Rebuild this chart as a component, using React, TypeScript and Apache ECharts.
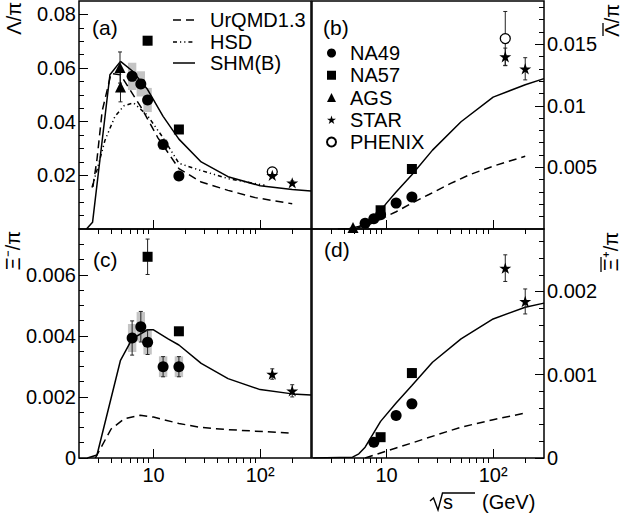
import React, { useEffect, useRef } from "react";
import * as echarts from "echarts";

const FONT = "'Liberation Sans', Arial, Helvetica, sans-serif";
const FS = 20;

// ---- axis ticks / labels ----
const xMajor = [10, 100];
const xMinor = [3, 4, 5, 6, 7, 8, 9, 20, 30, 40, 50, 60, 70, 80, 90, 200];

const aMax = 0.085;
const aMajor = [0.02, 0.04, 0.06, 0.08];
const aMinor = [0.005, 0.01, 0.015, 0.025, 0.03, 0.035, 0.045, 0.05, 0.055, 0.065, 0.07, 0.075];
const bMax = 0.0185;
const bMajor = [0.005, 0.01, 0.015];
const bMinor = [0.001, 0.002, 0.003, 0.004, 0.006, 0.007, 0.008, 0.009, 0.011, 0.012, 0.013, 0.014, 0.016, 0.017, 0.018];
const cMax = 0.0075;
const cMajor = [0, 0.002, 0.004, 0.006];
const cMinor = [0.0005, 0.001, 0.0015, 0.0025, 0.003, 0.0035, 0.0045, 0.005, 0.0055, 0.0065, 0.007];
const dMax = 0.00275;
const dMajor = [0, 0.001, 0.002];
const dMinor = [0.0002, 0.0004, 0.0006, 0.0008, 0.0012, 0.0014, 0.0016, 0.0018, 0.0022, 0.0024, 0.0026];

// ---- model curves [sqrt(s), ratio] ----
const urqmdA = [[2.7, 0.0157], [2.95, 0.026], [3.3, 0.044], [4.0, 0.058], [4.9, 0.0575], [6.0, 0.052], [7.6, 0.0455], [8.8, 0.041], [11, 0.034], [17.3, 0.0225], [28, 0.0175], [50, 0.0144], [90, 0.0117], [200, 0.0094]];
const hsdA = [[2.65, 0.0155], [2.95, 0.022], [3.5, 0.033], [4.35, 0.042], [5.3, 0.046], [6.5, 0.047], [8.7, 0.0425], [12.3, 0.034], [17.3, 0.0245], [24.4, 0.0225], [50, 0.0188], [100, 0.0166], [110, 0.0163]];
const shmA = [[2.35, 0], [2.68, 0.0025], [3.9, 0.0575], [4.9, 0.0625], [6.3, 0.059], [8.8, 0.052], [12.3, 0.042], [17.3, 0.0335], [28, 0.025], [50, 0.0195], [100, 0.0161], [200, 0.0147], [300, 0.0142]];

const urqmdB = [[5, 0], [7, 0.0004], [8.8, 0.0008], [12.3, 0.0014], [17.3, 0.0021], [25, 0.0028], [40, 0.0037], [60, 0.0044], [100, 0.0051], [200, 0.0059]];
const shmB = [[3.5, 0], [4.5, 0.00005], [5.5, 0.0002], [6.3, 0.0005], [7.6, 0.0009], [8.8, 0.0015], [10, 0.0021], [12.3, 0.003], [17.3, 0.0044], [27, 0.0064], [50, 0.0087], [100, 0.0107], [200, 0.0117], [300, 0.0122]];

const urqmdC = [[2.85, 0], [3.0, 0.00015], [4.0, 0.00095], [5.3, 0.00128], [7.5, 0.0014], [10, 0.00134], [17.3, 0.00113], [28, 0.001], [50, 0.00093], [90, 0.00088], [185, 0.00082]];
const shmC = [[2.4, 0], [2.95, 0.0001], [4.9, 0.0032], [6.3, 0.0039], [8.8, 0.0042], [10, 0.0042], [13.7, 0.0039], [17.3, 0.0037], [28, 0.0031], [50, 0.0026], [100, 0.00224], [200, 0.0021], [300, 0.00206]];

const urqmdD = [[6.3, 0], [8.8, 0.00006], [12.3, 0.00012], [17.3, 0.00018], [30, 0.00028], [50, 0.00037], [100, 0.00046], [200, 0.00054]];
const shmD = [[2.05, 0], [4.8, 0.00001], [5.5, 0.00005], [6.3, 0.00013], [8.8, 0.00044], [12.3, 0.00066], [17.3, 0.00087], [27, 0.00115], [50, 0.00143], [100, 0.00167], [200, 0.00181], [300, 0.00186]];

// ---- measurements [sqrt(s), ratio, stat. error] ----
const na49A = [[6.3, 0.0569, 0], [7.6, 0.0541, 0], [8.8, 0.0481, 0], [12.3, 0.0315, 0], [17.3, 0.0198, 0]];
const na49ASys = [0.0051, 0.0047, 0.0045, 0.002, 0.001];
const na57A = [[8.8, 0.0702, 0.0015], [17.3, 0.0371, 0.0012]];
const agsA = [[4.85, 0.0602, 0.0058], [4.9, 0.0529, 0.0055]];
const starA = [[130, 0.02, 0.0008], [200, 0.0172, 0.0007]];
const phenixA = [[130, 0.0213, 0.001]];

const na49B = [[6.3, 0.00046, 0], [7.6, 0.00083, 0], [8.8, 0.00115, 0], [12.3, 0.0021, 0], [17.3, 0.0026, 0]];
const na57B = [[8.8, 0.00152, 0], [17.3, 0.00487, 0]];
const agsB = [[4.85, 0.00013, 0]];
const starB = [[130, 0.01398, 0.0007], [200, 0.013, 0.0009]];
const phenixB = [[130, 0.01545, 0.0022]];

const na49C = [[6.3, 0.00393, 0.00056], [7.6, 0.0043, 0.0005], [8.8, 0.00379, 0.0004], [12.3, 0.00299, 0.00033], [17.3, 0.00299, 0.00033]];
const na49CSys = [0.00046, 0.00048, 0.0004, 0.00034, 0.00034];
const na57C = [[8.8, 0.00659, 0.00058], [17.3, 0.00415, 0.0001]];
const starC = [[130, 0.00275, 0.00017], [200, 0.0022, 0.0002]];

const na49D = [[7.6, 0.00019, 0.00003], [12.3, 0.00051, 0.00003], [17.3, 0.00065, 0.00003]];
const na57D = [[8.8, 0.00025, 0.00004], [17.3, 0.00102, 0.00005]];
const starD = [[130, 0.00228, 0.00016], [200, 0.00188, 0.00015]];

const lineNames = ["UrQMD1.3", "HSD", "SHM(B)"];
const markNames = ["NA49", "NA57", "AGS", "STAR", "PHENIX"];

const STAR_PATH =
  "path://M50,0 L61.2,34.5 L97.6,34.5 L68.2,55.9 L79.4,90.5 L50,69.1 L20.6,90.5 L31.8,55.9 L2.4,34.5 L38.8,34.5 Z";

const MARK: Record<string, any> = {
  NA49: { symbol: "circle", size: 11, style: { color: "#000" } },
  NA57: { symbol: "rect", size: 10, style: { color: "#000" } },
  AGS: { symbol: "triangle", size: 11, style: { color: "#000" } },
  STAR: { symbol: STAR_PATH, size: 12, style: { color: "#000" } },
  PHENIX: { symbol: "circle", size: 10, style: { color: "#fff", borderColor: "#000", borderWidth: 1.3 } },
};

const DASH: Record<string, any> = {
  "UrQMD1.3": [8, 5],
  HSD: [4, 3, 1.2, 3, 1.2, 3],
  "SHM(B)": "solid",
};

const GRIDS = [
  { left: 79, top: 1, width: 232, height: 228 },
  { left: 312, top: 1, width: 232, height: 228 },
  { left: 79, top: 229, width: 232, height: 229 },
  { left: 312, top: 229, width: 232, height: 229 },
];

const PANELS = [
  { max: aMax, major: aMajor, minor: aMinor, side: "left", xLabels: false },
  { max: bMax, major: bMajor, minor: bMinor, side: "right", xLabels: false },
  { max: cMax, major: cMajor, minor: cMinor, side: "left", xLabels: true },
  { max: dMax, major: dMajor, minor: dMinor, side: "right", xLabels: true },
];

const ax = (p: number) => ({ xAxisIndex: p * 2, yAxisIndex: p * 2 });

function lineS(name: string, p: number, data: number[][]) {
  return {
    type: "line",
    name,
    ...ax(p),
    data,
    symbol: "none",
    silent: true,
    color: "#000",
    itemStyle: { color: "#000" },
    lineStyle: { color: "#000", width: 1.5, type: DASH[name] },
    z: 3,
  };
}

function scat(name: string, p: number, pts: number[][]) {
  const m = MARK[name];
  return {
    type: "scatter",
    name,
    ...ax(p),
    data: pts.map((d) => [d[0], d[1]]),
    symbol: m.symbol,
    symbolSize: m.size,
    symbolKeepAspect: true,
    itemStyle: { ...m.style, opacity: 1 },
    z: 5,
  };
}

function errS(p: number, pts: number[][]) {
  const data = pts.filter((d) => d[2] > 0).map((d) => [d[0], d[1] - d[2], d[1] + d[2]]);
  return {
    type: "custom",
    ...ax(p),
    data,
    silent: true,
    z: 4,
    renderItem: (_params: any, api: any) => {
      const x = api.value(0);
      const a = api.coord([x, api.value(1)]);
      const b = api.coord([x, api.value(2)]);
      const st = { stroke: "#222", lineWidth: 1 };
      return {
        type: "group",
        children: [
          { type: "line", shape: { x1: a[0], y1: a[1], x2: b[0], y2: b[1] }, style: st },
          { type: "line", shape: { x1: a[0] - 2, y1: a[1], x2: a[0] + 2, y2: a[1] }, style: st },
          { type: "line", shape: { x1: b[0] - 2, y1: b[1], x2: b[0] + 2, y2: b[1] }, style: st },
        ],
      };
    },
  };
}

function boxS(p: number, pts: number[][], sys: number[]) {
  const data = pts.map((d, i) => [d[0], d[1] - sys[i], d[1] + sys[i]]);
  return {
    type: "custom",
    ...ax(p),
    data,
    silent: true,
    z: 1,
    renderItem: (_params: any, api: any) => {
      const x = api.value(0);
      const a = api.coord([x, api.value(1)]);
      const b = api.coord([x, api.value(2)]);
      return {
        type: "rect",
        shape: { x: a[0] - 4.2, y: b[1], width: 8.4, height: a[1] - b[1] },
        style: { fill: "#c4c4c4" },
      };
    },
  };
}

function buildOption() {
  const tickLine = { color: "#000", width: 1 };
  const xAxis: any[] = [];
  const yAxis: any[] = [];
  PANELS.forEach((pn, gi) => {
    xAxis.push({
      type: "log",
      logBase: 10,
      gridIndex: gi,
      min: 2,
      max: 300,
      axisLine: { show: false },
      splitLine: { show: false },
      axisTick: { show: true, inside: true, length: 9, customValues: xMajor, lineStyle: tickLine },
      axisLabel: {
        show: pn.xLabels,
        customValues: xMajor,
        margin: 7,
        fontSize: FS,
        fontFamily: FONT,
        color: "#000",
        formatter: (v: number) => (Math.abs(v - 10) < 1e-6 ? "10" : "10²"),
      },
    });
    xAxis.push({
      type: "log",
      logBase: 10,
      gridIndex: gi,
      min: 2,
      max: 300,
      axisLine: { show: false },
      splitLine: { show: false },
      axisTick: { show: true, inside: true, length: 5, customValues: xMinor, lineStyle: tickLine },
      axisLabel: { show: false },
    });
    yAxis.push({
      type: "value",
      gridIndex: gi,
      min: 0,
      max: pn.max,
      position: pn.side,
      axisLine: { show: false },
      splitLine: { show: false },
      axisTick: { show: true, inside: true, length: 9, customValues: pn.major, lineStyle: tickLine },
      axisLabel: {
        customValues: pn.major,
        margin: 3,
        fontSize: FS,
        fontFamily: FONT,
        color: "#000",
        formatter: (v: number) => String(v),
      },
    });
    yAxis.push({
      type: "value",
      gridIndex: gi,
      min: 0,
      max: pn.max,
      position: pn.side,
      axisLine: { show: false },
      splitLine: { show: false },
      axisTick: { show: true, inside: true, length: 5, customValues: pn.minor, lineStyle: tickLine },
      axisLabel: { show: false },
    });
  });

  const series: any[] = [
    // panel (a)
    boxS(0, na49A, na49ASys),
    lineS("UrQMD1.3", 0, urqmdA),
    lineS("HSD", 0, hsdA),
    lineS("SHM(B)", 0, shmA),
    errS(0, na57A),
    errS(0, agsA),
    errS(0, starA),
    errS(0, phenixA),
    scat("NA49", 0, na49A),
    scat("NA57", 0, na57A),
    scat("AGS", 0, agsA),
    scat("PHENIX", 0, phenixA),
    scat("STAR", 0, starA),
    // panel (b)
    lineS("UrQMD1.3", 1, urqmdB),
    lineS("SHM(B)", 1, shmB),
    errS(1, starB),
    errS(1, phenixB),
    scat("NA49", 1, na49B),
    scat("NA57", 1, na57B),
    scat("AGS", 1, agsB),
    scat("PHENIX", 1, phenixB),
    scat("STAR", 1, starB),
    // panel (c)
    boxS(2, na49C, na49CSys),
    lineS("UrQMD1.3", 2, urqmdC),
    lineS("SHM(B)", 2, shmC),
    errS(2, na49C),
    errS(2, na57C),
    errS(2, starC),
    scat("NA49", 2, na49C),
    scat("NA57", 2, na57C),
    scat("STAR", 2, starC),
    // panel (d)
    lineS("UrQMD1.3", 3, urqmdD),
    lineS("SHM(B)", 3, shmD),
    errS(3, na49D),
    errS(3, na57D),
    errS(3, starD),
    scat("NA49", 3, na49D),
    scat("NA57", 3, na57D),
    scat("STAR", 3, starD),
  ];

  const txt = (text: string, x: number, y: number, size: number, extra: any = {}) => ({
    type: "text",
    x,
    y,
    rotation: extra.rotation || 0,
    silent: true,
    z: 10,
    style: {
      text,
      fill: "#000",
      font: `${size}px ${FONT}`,
      fontSize: size,
      fontFamily: FONT,
      align: extra.align || "left",
      textAlign: extra.align || "left",
      verticalAlign: "middle",
      textVerticalAlign: "middle",
    },
  });
  const seg = (x1: number, y1: number, x2: number, y2: number, dash: any, w = 1.5) => ({
    type: "line",
    silent: true,
    z: 10,
    shape: { x1, y1, x2, y2 },
    style: { stroke: "#000", lineWidth: w, lineDash: dash === "solid" ? null : dash },
  });
  const R = Math.PI / 2;

  const legendRows = [20, 42, 63];
  const legendGraphics: any[] = [];
  lineNames.forEach((n, i) => {
    legendGraphics.push(seg(173, legendRows[i], 195, legendRows[i], DASH[n]));
    legendGraphics.push(txt(n, 210, legendRows[i], FS));
  });

  const graphic: any[] = [
    ...legendGraphics,
    txt("(a)", 92, 27, 21),
    txt("(b)", 323, 27, 21),
    txt("(c)", 93, 259, 21),
    txt("(d)", 324, 249, 21),
    txt("Λ/π", 14, 2, FS, { rotation: R, align: "right" }),
    txt("Ξ⁻/π", 13, 231, FS, { rotation: R, align: "right" }),
    txt("Λ/π", 612, 4, FS, { rotation: R, align: "right" }),
    seg(603, 23, 603, 36, "solid", 1.3),
    txt("Ξ⁺/π", 611, 232, FS, { rotation: R, align: "right" }),
    seg(601, 257, 601, 272, "solid", 1.3),
    {
      type: "polyline",
      silent: true,
      z: 10,
      shape: { points: [[430, 501], [433.5, 498], [438, 510], [442.5, 493], [475, 493]] },
      style: { stroke: "#000", lineWidth: 1.4, fill: null },
    },
    txt("s", 443, 502, FS),
    txt("(GeV)", 482, 502, FS),
  ];

  return {
    animation: false,
    backgroundColor: "#fff",
    grid: GRIDS.map((g) => ({ ...g, show: true, borderColor: "#000", borderWidth: 1.5, backgroundColor: "transparent" })),
    xAxis,
    yAxis,
    legend: [
      {
        data: markNames,
        orient: "vertical",
        left: 326,
        top: 42,
        padding: 0,
        itemWidth: 9,
        itemHeight: 9,
        itemGap: 0.25,
        selectedMode: false,
        textStyle: { fontSize: FS, fontFamily: FONT, color: "#000", lineHeight: 22, padding: [0, 0, 0, 9] },
      },
    ],
    graphic,
    series,
  };
}

export default function App() {
  const ref = useRef<HTMLDivElement>(null);
  useEffect(() => {
    if (!ref.current) return;
    const chart = echarts.init(ref.current, null, { renderer: "svg" });
    chart.setOption(buildOption() as any);
    return () => chart.dispose();
  }, []);
  return (
    <div
      ref={ref}
      style={{ position: "fixed", left: 0, top: 0, width: 624, height: 522, background: "#fff" }}
    />
  );
}
